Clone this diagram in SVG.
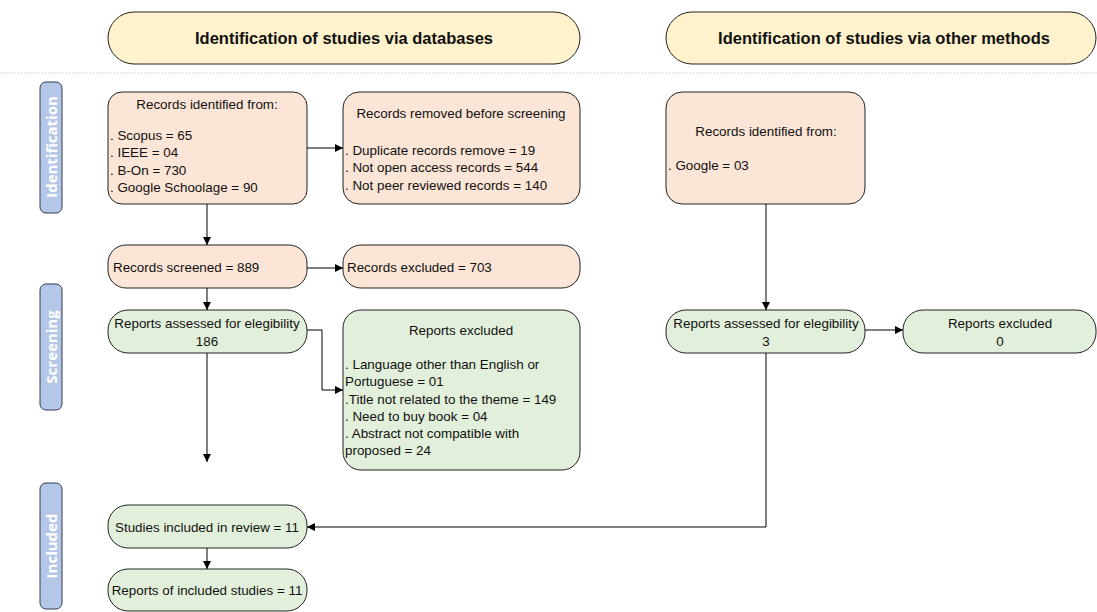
<svg xmlns="http://www.w3.org/2000/svg" width="1097" height="612" viewBox="0 0 1097 612">
<style>
.hdr{fill:#fff2cc;stroke:#222;stroke-width:1}
.pe{fill:#fbe5d6;stroke:#222;stroke-width:1}
.gr{fill:#e2efda;stroke:#222;stroke-width:1}
.side{fill:#b4c7e7;stroke:#2f3b57;stroke-width:1}
text{font-family:"Liberation Sans",Arial,sans-serif;font-size:13.4px;fill:#111}
.ht{font-weight:bold;font-size:16.5px;text-anchor:middle}
.st{font-family:"Open Sans","Liberation Sans",sans-serif;font-weight:bold;font-size:15px;fill:#fff;text-anchor:middle}
.c{text-anchor:middle}
.cn{stroke:#000;stroke-width:1;fill:none;marker-end:url(#ah)}
</style>
<defs>
<marker id="ah" viewBox="0 0 10 10" refX="10" refY="5" markerWidth="8" markerHeight="8" markerUnits="userSpaceOnUse" orient="auto">
<path d="M0,0 L10,5 L0,10 z" fill="#000"/>
</marker>
</defs>
<rect width="1097" height="612" fill="#fff"/>
<line x1="0" y1="73" x2="1097" y2="73" stroke="#c8c8c8" stroke-width="1" stroke-dasharray="1.5,1.5"/>

<g id="hdr-db"><rect class="hdr" x="108" y="12" width="472" height="52" rx="26"/><text class="ht" x="344" y="44">Identification of studies via databases</text></g>
<g id="hdr-other"><rect class="hdr" x="666" y="12" width="430" height="52" rx="26"/><text class="ht" x="884" y="44">Identification of studies via other methods</text></g>

<g id="side-identification"><rect class="side" x="40" y="82" width="22" height="131" rx="6"/><text class="st" transform="translate(56.5,147) rotate(-90)">Identification</text></g>
<g id="side-screening"><rect class="side" x="40" y="284" width="22" height="126" rx="6"/><text class="st" transform="translate(56.5,347) rotate(-90)">Screening</text></g>
<g id="side-included"><rect class="side" x="40" y="483" width="22" height="126" rx="6"/><text class="st" transform="translate(56.5,546) rotate(-90)">Included</text></g>

<g id="rec-id-db"><rect class="pe" x="108" y="92" width="199" height="112" rx="14"/>
<text class="c" x="207" y="109">Records identified from:</text>
<text x="110" y="140">. Scopus = 65</text>
<text x="110" y="157">. IEEE = 04</text>
<text x="110" y="175">. B-On = 730</text>
<text x="110" y="192">. Google Schoolage = 90</text></g>

<g id="rec-removed"><rect class="pe" x="343" y="92" width="237" height="112" rx="16"/>
<text class="c" x="461" y="118">Records removed before screening</text>
<text x="345" y="155">. Duplicate records remove = 19</text>
<text x="345" y="172">. Not open access records = 544</text>
<text x="345" y="190">. Not peer reviewed records = 140</text></g>

<g id="rec-id-other"><rect class="pe" x="666" y="92" width="199" height="112" rx="16"/>
<text class="c" x="766" y="136">Records identified from:</text>
<text x="668" y="170">. Google  = 03</text></g>

<g id="screened"><rect class="pe" x="108" y="245" width="199" height="43" rx="18"/><text x="113" y="272">Records screened = 889</text></g>
<g id="excluded"><rect class="pe" x="343" y="245" width="237" height="43" rx="18"/><text x="347" y="272">Records excluded = 703</text></g>

<g id="assessed-db"><rect class="gr" x="108" y="310" width="199" height="43" rx="20"/>
<text class="c" x="207" y="328">Reports assessed for elegibility</text>
<text class="c" x="207" y="346">186</text></g>

<g id="reports-excl-db"><rect class="gr" x="343" y="310" width="237" height="160" rx="18"/>
<text class="c" x="461" y="335">Reports excluded</text>
<text x="345" y="369">. Language other than English or</text>
<text x="345" y="386">Portuguese = 01</text>
<text x="345" y="404">.Title not related to the theme = 149</text>
<text x="345" y="421">. Need to buy book = 04</text>
<text x="345" y="438">. Abstract not compatible with</text>
<text x="345" y="455">proposed = 24</text></g>

<g id="assessed-other"><rect class="gr" x="666" y="310" width="199" height="43" rx="20"/>
<text class="c" x="766" y="328">Reports assessed for elegibility</text>
<text class="c" x="766" y="346">3</text></g>

<g id="reports-excl-other"><rect class="gr" x="903" y="310" width="193" height="43" rx="20"/>
<text class="c" x="1000" y="328">Reports excluded</text>
<text class="c" x="1000" y="346">0</text></g>

<g id="included"><rect class="gr" x="108" y="505" width="199" height="43" rx="20"/><text class="c" x="207" y="532">Studies included in review = 11</text></g>
<g id="reports-included"><rect class="gr" x="108" y="569" width="199" height="42" rx="20"/><text class="c" x="207" y="595">Reports of included studies = 11</text></g>

<g id="connectors">
<path class="cn" d="M207,204 V245"/>
<path class="cn" d="M307,148 H343"/>
<path class="cn" d="M307,268 H343"/>
<path class="cn" d="M207,288 V310"/>
<path class="cn" d="M307,330 H322 V390 H343"/>
<path class="cn" d="M207,353 V462"/>
<path class="cn" d="M766,204 V310"/>
<path class="cn" d="M865,330 H903"/>
<path class="cn" d="M766,353 V527 H307"/>
<path class="cn" d="M207,548 V569"/>
</g>
</svg>
